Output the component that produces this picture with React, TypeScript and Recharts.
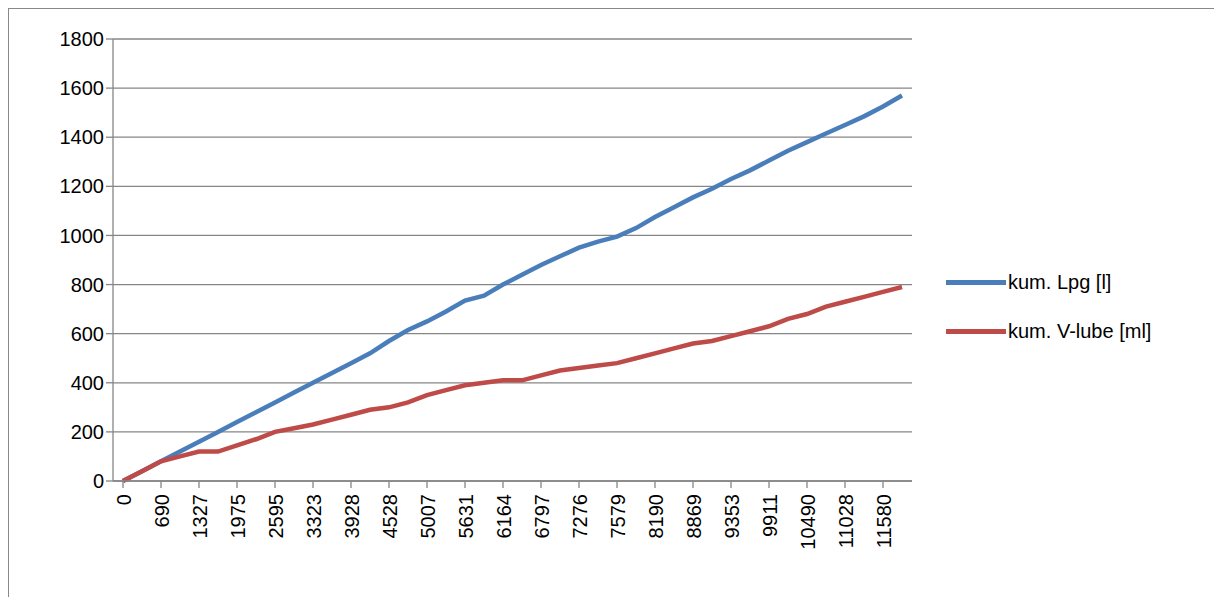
import React from 'react';
import { LineChart, Line, XAxis, YAxis, CartesianGrid } from 'recharts';

const distance = [
  0, 345, 690, 1010, 1327, 1650, 1975, 2285, 2595, 2960, 3323, 3630, 3928, 4230,
  4528, 4770, 5007, 5320, 5631, 5900, 6164, 6480, 6797, 7040, 7276, 7430, 7579,
  7890, 8190, 8530, 8869, 9110, 9353, 9630, 9911, 10200, 10490, 10760, 11028,
  11300, 11580, 11850,
];

const lpg = [
  0, 40, 80, 120, 160, 200, 240, 280, 320, 360, 400, 440, 480, 520, 570, 615,
  650, 690, 735, 755, 800, 840, 880, 915, 950, 975, 995, 1030, 1075, 1115, 1155,
  1190, 1230, 1265, 1305, 1345, 1380, 1415, 1450, 1485, 1525, 1570,
];

const vlube = [
  0, 40, 80, 100, 120, 120, 145, 170, 200, 215, 230, 250, 270, 290, 300, 320,
  350, 370, 390, 400, 410, 410, 430, 450, 460, 470, 480, 500, 520, 540, 560, 570,
  590, 610, 630, 660, 680, 710, 730, 750, 770, 790,
];

const yTicks = [0, 200, 400, 600, 800, 1000, 1200, 1400, 1600, 1800];

const series = [
  { key: 'lpg', name: 'kum. Lpg [l]', color: '#4a7ebb' },
  { key: 'vlube', name: 'kum. V-lube [ml]', color: '#be4b48' },
];

const data = distance.map((d, i) => ({ km: String(d), lpg: lpg[i], vlube: vlube[i] }));

const axisColor = '#868686';

export default function App() {
  return (
    <div style={{ position: 'absolute', left: 0, top: 0, width: 1214, height: 597, background: '#fff', fontFamily: 'Liberation Sans, Arial, sans-serif' }}>
      <div style={{ position: 'absolute', left: 8, top: 8, width: 1206, height: 589, borderLeft: '1px solid #888', borderTop: '1px solid #888' }} />
      <LineChart width={1214} height={597} data={data} margin={{ top: 39, right: 302, bottom: 0, left: 0 }}>
        <CartesianGrid vertical={false} stroke={axisColor} strokeWidth={1.3} />
        <XAxis
          dataKey="km"
          interval={1}
          angle={-90}
          textAnchor="end"
          dx={-6}
          dy={4}
          padding={{ left: 10, right: 10 }}
          tick={{ fill: '#000', fontSize: 20 }}
          stroke={axisColor}
          strokeWidth={1.3}
          tickSize={7}
          height={116}
        />
        <YAxis
          domain={[0, 1800]}
          ticks={yTicks}
          width={113}
          tick={{ fill: '#000', fontSize: 20 }}
          stroke={axisColor}
          strokeWidth={1.3}
          tickSize={7}
        />
        {series.map((s) => (
          <Line key={s.key} type="linear" dataKey={s.key} name={s.name} stroke={s.color} strokeWidth={4.5} dot={false} isAnimationActive={false} />
        ))}
      </LineChart>
      <div style={{ position: 'absolute', left: 946, top: 258 }}>
        {series.map((s) => (
          <div key={s.key} style={{ display: 'flex', alignItems: 'center', height: 49, fontSize: 20 }}>
            <span style={{ display: 'inline-block', width: 60, height: 5, background: s.color, marginRight: 2 }} />
            <span>{s.name}</span>
          </div>
        ))}
      </div>
    </div>
  );
}
